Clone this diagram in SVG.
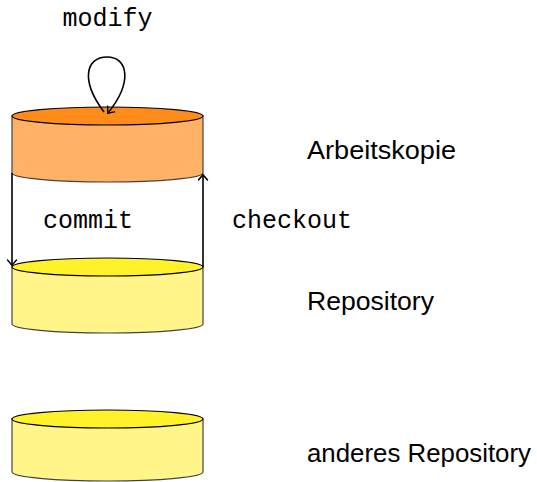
<svg xmlns="http://www.w3.org/2000/svg" width="537" height="482" viewBox="0 0 537 482">
<style>
.body{stroke:#444;stroke-width:1.2}
.top{stroke:#000;stroke-width:1.2}
.mono{font-family:"Liberation Mono",monospace;font-size:25px;fill:#000}
.sans{font-family:"Liberation Sans",sans-serif;font-size:26px;fill:#000}
.edge{fill:none;stroke:#000;stroke-width:1.6}
</style>
<defs>
<marker id="arr" viewBox="-6 -6 8 12" markerWidth="8" markerHeight="12" refX="0" refY="0" orient="auto" markerUnits="userSpaceOnUse">
<path d="M-5,-4.5 Q-1,-1 0.5,0 Q-1,1 -5,4.5" fill="none" stroke="#000" stroke-width="1.4" stroke-linecap="round"/>
</marker>
</defs>
<rect width="537" height="482" fill="#fff"/>
<g id="arbeitskopie">
<path class="body" fill="#FFB266" d="M12,116 L12,173 A95.5,9 0 0 0 203,173 L203,116 Z"/>
<ellipse class="top" cx="107.5" cy="116" rx="95.5" ry="9" fill="#FF8C1A"/>
<text class="sans" x="307" y="159" textLength="149" lengthAdjust="spacingAndGlyphs">Arbeitskopie</text>
</g>
<g id="repository">
<path class="body" fill="#FFF588" d="M12,267 L12,324 A95.5,9 0 0 0 203,324 L203,267 Z"/>
<ellipse class="top" cx="107.5" cy="267" rx="95.5" ry="9" fill="#FFF22A"/>
<text class="sans" x="307" y="310" textLength="127" lengthAdjust="spacingAndGlyphs">Repository</text>
</g>
<g id="anderes-repository">
<path class="body" fill="#FFF588" d="M12,419 L12,472 A95.5,9 0 0 0 203,472 L203,419 Z"/>
<ellipse class="top" cx="107.5" cy="419" rx="95.5" ry="9" fill="#FFF22A"/>
<text class="sans" x="307" y="462" textLength="224" lengthAdjust="spacingAndGlyphs">anderes Repository</text>
</g>
<g id="connectors">
<path class="edge" d="M104,112 C80,80 86,57 107,57 C128,57 133,82 108,113" marker-end="url(#arr)"/>
<text class="mono" x="107.5" y="26" text-anchor="middle">modify</text>
<path class="edge" d="M12,173 L12,265" marker-end="url(#arr)"/>
<text class="mono" x="43" y="228">commit</text>
<path class="edge" d="M203,267 L203,175" marker-end="url(#arr)"/>
<text class="mono" x="232" y="228">checkout</text>
</g>
</svg>
